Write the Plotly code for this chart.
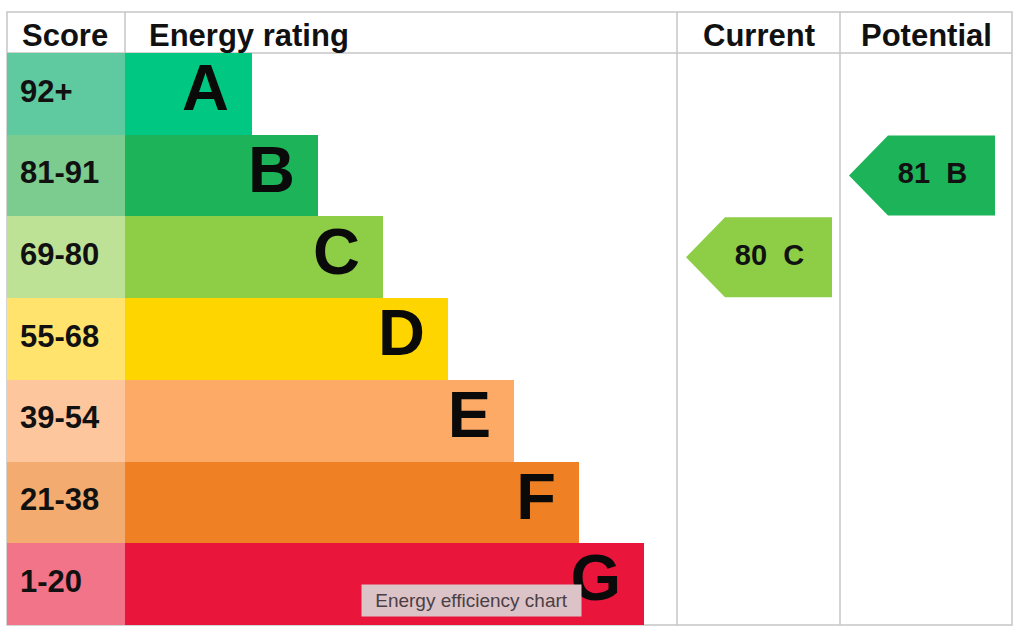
import plotly.graph_objects as go

# ---- data ----
bands = ["A", "B", "C", "D", "E", "F", "G"]
score_ranges = ["92+", "81-91", "69-80", "55-68", "39-54", "21-38", "1-20"]
band_min_scores = [92, 81, 69, 55, 39, 21, 1]
rating_bar_lengths = [127, 193, 258, 323, 389, 454, 519]
band_colors = ["#00c781", "#1cb359", "#8dce46", "#ffd500", "#fcaa65", "#ef8023", "#e9153b"]
score_colors = ["#5fc9a0", "#7ccb8f", "#bde296", "#ffe36c", "#fdc69c", "#f4ab6f", "#f27489"]
current_score = 80
potential_score = 81
header_labels = ["Score", "Energy rating", "Current", "Potential"]
tooltip_text = "Energy efficiency chart"

# ---- layout constants ----
W, H = 1024, 632
ROW_TOP_PX, ROW_H_PX = 53, 81.71
LEFT, SCORE_RIGHT, CUR_LEFT, POT_LEFT, RIGHT = 7, 125, 677, 840, 1012
FONT = "Liberation Sans, Arial, sans-serif"
GRID = "#c6c6c6"


def px_to_row(p):
    return (p - ROW_TOP_PX) / ROW_H_PX - 0.5


rows = list(range(len(bands)))


def band_index(score):
    for i, m in enumerate(band_min_scores):
        if score >= m:
            return i
    return len(bands) - 1


fig = go.Figure()

# score cells
fig.add_trace(go.Bar(
    y=rows, x=[SCORE_RIGHT - LEFT] * len(rows), base=LEFT, orientation="h",
    width=1, marker=dict(color=score_colors, line=dict(width=0)),
    hoverinfo="skip", showlegend=False))
# rating bars
fig.add_trace(go.Bar(
    y=rows, x=rating_bar_lengths, base=SCORE_RIGHT, orientation="h",
    width=1, marker=dict(color=band_colors, line=dict(width=0)),
    hoverinfo="skip", showlegend=False))

# score text
fig.add_trace(go.Scatter(
    x=[20] * len(rows), y=rows, mode="text", text=score_ranges,
    textposition="middle right",
    textfont=dict(family=FONT, size=31, color="#111111", weight="bold"),
    hoverinfo="skip", showlegend=False))
# band letters
fig.add_trace(go.Scatter(
    x=[SCORE_RIGHT + L - 23 for L in rating_bar_lengths], y=rows, mode="text",
    text=bands, textposition="middle left",
    textfont=dict(family=FONT, size=65, color="#0a0a0a", weight="bold"),
    hoverinfo="skip", showlegend=False))


def add_arrow(score, col_left):
    i = band_index(score)
    tip = col_left + 9
    rl = tip + 39
    rr = tip + 146
    inset = 0.49
    xs = [tip, rl, rr, rr, rl, tip]
    ys = [i, i - inset, i - inset, i + inset, i + inset, i]
    fig.add_trace(go.Scatter(
        x=xs, y=ys, mode="lines", fill="toself", fillcolor=band_colors[i],
        line=dict(width=0, color=band_colors[i]), hoverinfo="skip", showlegend=False))
    fig.add_trace(go.Scatter(
        x=[(rl + rr) / 2 - 9], y=[i], mode="text", text=[f"{score}  {bands[i]}"],
        textposition="middle center",
        textfont=dict(family=FONT, size=29, color="#111111", weight="bold"),
        hoverinfo="skip", showlegend=False))


add_arrow(current_score, CUR_LEFT)
add_arrow(potential_score, POT_LEFT)

# grid / borders
top = px_to_row(12)
hdr = -0.5
bottom = len(bands) - 0.5
shapes = [
    dict(type="rect", x0=LEFT, x1=RIGHT, y0=top, y1=bottom),
    dict(type="line", x0=LEFT, x1=RIGHT, y0=hdr, y1=hdr),
    dict(type="line", x0=SCORE_RIGHT, x1=SCORE_RIGHT, y0=top, y1=hdr),
    dict(type="line", x0=CUR_LEFT, x1=CUR_LEFT, y0=top, y1=bottom),
    dict(type="line", x0=POT_LEFT, x1=POT_LEFT, y0=top, y1=bottom),
]
for s in shapes:
    s.update(xref="x", yref="y", layer="below", line=dict(color=GRID, width=1.5))

hy = px_to_row(35.5)
annotations = [
    dict(x=20, y=hy, text=header_labels[0], xanchor="left"),
    dict(x=147, y=hy, text=header_labels[1], xanchor="left"),
    dict(x=(CUR_LEFT + POT_LEFT) / 2, y=hy, text=header_labels[2], xanchor="center"),
    dict(x=(POT_LEFT + RIGHT) / 2, y=hy, text=header_labels[3], xanchor="center"),
]
for a in annotations:
    a.update(xref="x", yref="y", yanchor="middle", showarrow=False,
             font=dict(family=FONT, size=31, color="#111111", weight="bold"))

annotations.append(dict(
    x=471.5, y=px_to_row(600.5), xref="x", yref="y", text=tooltip_text,
    showarrow=False, xanchor="center", yanchor="middle", width=219, height=31,
    bgcolor="#dcc3c8", borderpad=0, align="center",
    font=dict(family=FONT, size=19, color="#4a4044")))

fig.update_layout(
    width=W, height=H, margin=dict(l=0, r=0, t=0, b=0),
    paper_bgcolor="white", plot_bgcolor="white",
    barmode="overlay", bargap=0, showlegend=False,
    xaxis=dict(range=[0, W], visible=False, fixedrange=True),
    yaxis=dict(range=[px_to_row(H), px_to_row(0)], visible=False, fixedrange=True),
    shapes=shapes, annotations=annotations, hovermode=False,
)

fig.write_html("out.html", config={"displayModeBar": False},
               post_script="document.body.style.margin='0';document.body.style.overflow='hidden';")
